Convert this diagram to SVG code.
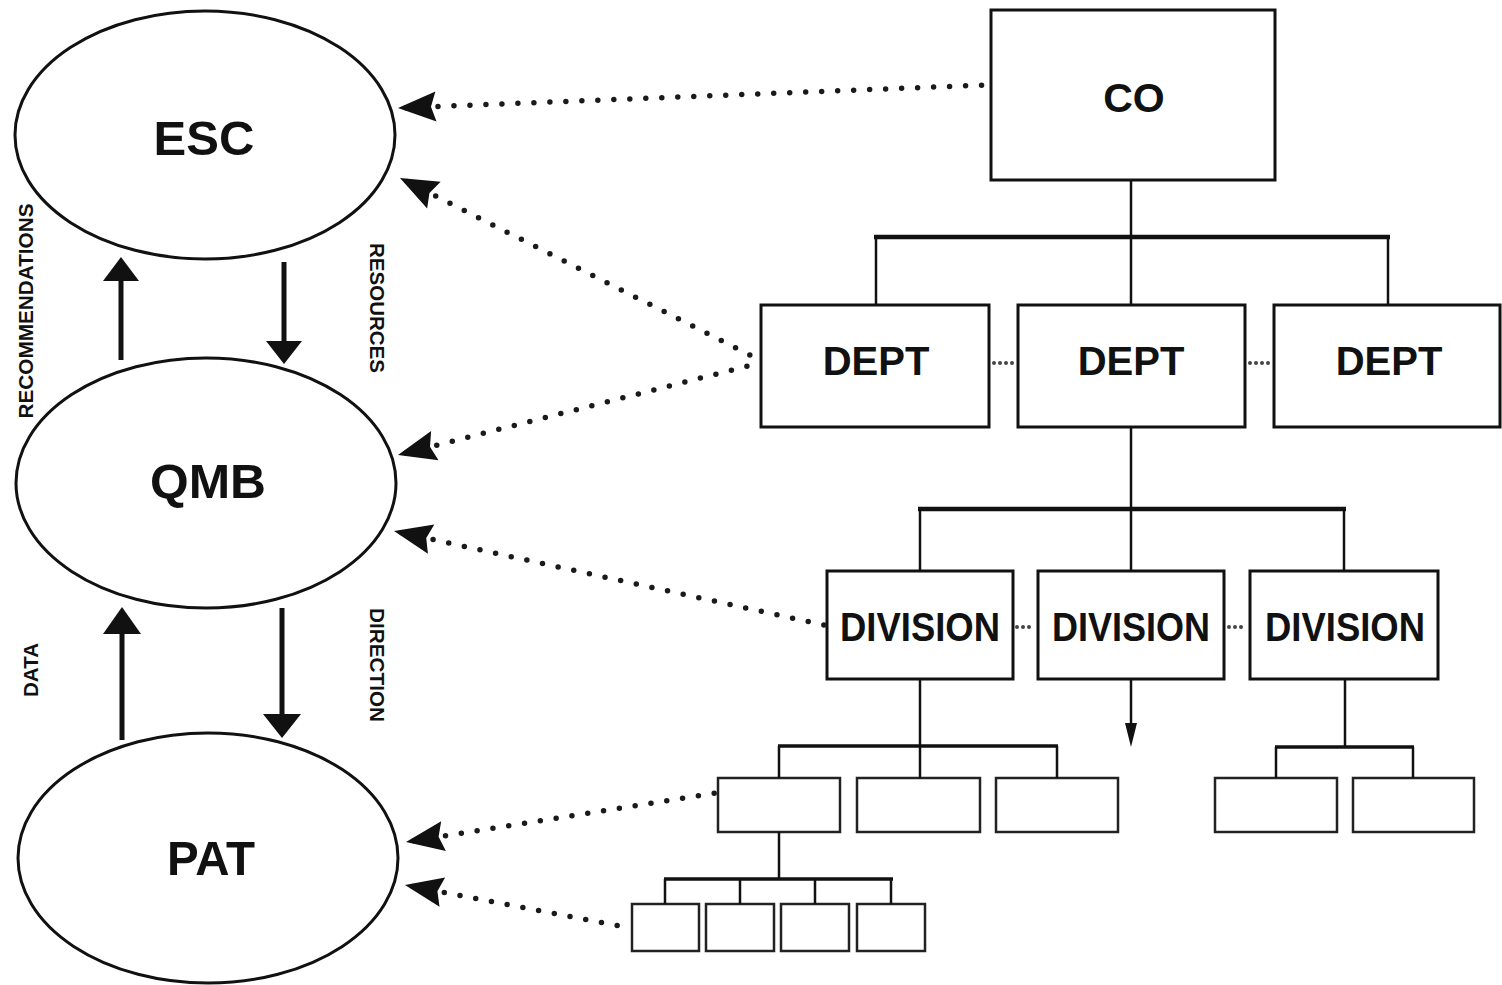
<svg xmlns="http://www.w3.org/2000/svg" width="1502" height="985" viewBox="0 0 1502 985">
  <style>
    .oval { fill: #fff; stroke: #111; stroke-width: 3; }
    .box { fill: #fff; stroke: #111; stroke-width: 3; }
    .small { fill: #fff; stroke: #222; stroke-width: 2.5; }
    .title { font-family: "Liberation Sans", Arial, sans-serif; font-weight: bold; fill: #111; text-anchor: middle; }
    .side { font-family: "Liberation Sans", Arial, sans-serif; font-weight: bold; fill: #111; text-anchor: middle; font-size: 20px; }
    .tree { fill: none; stroke: #111; stroke-width: 2.5; }
    .bar { fill: none; stroke: #111; stroke-width: 4.5; }
    .bar2 { fill: none; stroke: #111; stroke-width: 3.5; }
    .flow { fill: none; stroke: #111; stroke-width: 5; }
    .dots { fill: none; stroke: #1a1a1a; stroke-width: 5.5; stroke-linecap: round; stroke-dasharray: 0 16; stroke-dashoffset: 8; }
    .tie { fill: none; stroke: #444; stroke-width: 4; stroke-linecap: round; stroke-dasharray: 0 6; }
    .head { fill: #111; }
  </style>
  <defs>
    <marker id="dart" markerUnits="userSpaceOnUse" markerWidth="40" markerHeight="32" viewBox="0 0 40 32" refX="40" refY="16" orient="auto-start-reverse">
      <path d="M2,1 L40,16 L2,31 L7,16 Z" fill="#111" stroke="none"/>
    </marker>
  </defs>

  <rect width="1502" height="985" fill="#fff"/>

  <!-- committee ovals -->
  <g id="esc">
    <ellipse class="oval" cx="205" cy="135" rx="190" ry="124"/>
    <text class="title" x="204" y="155" font-size="49">ESC</text>
  </g>
  <g id="qmb">
    <ellipse class="oval" cx="206" cy="483" rx="190" ry="125"/>
    <text class="title" x="208" y="498" font-size="49" textLength="116" lengthAdjust="spacingAndGlyphs">QMB</text>
  </g>
  <g id="pat">
    <ellipse class="oval" cx="208" cy="858" rx="190" ry="125"/>
    <text class="title" x="211" y="875" font-size="49" textLength="88" lengthAdjust="spacingAndGlyphs">PAT</text>
  </g>

  <!-- flow labels -->
  <g id="labels">
    <text class="side" transform="translate(33,311) rotate(-90)" textLength="215" lengthAdjust="spacingAndGlyphs">RECOMMENDATIONS</text>
    <text class="side" transform="translate(370,308) rotate(90)" textLength="130" lengthAdjust="spacingAndGlyphs">RESOURCES</text>
    <text class="side" transform="translate(38,670) rotate(-90)" textLength="54" lengthAdjust="spacingAndGlyphs">DATA</text>
    <text class="side" transform="translate(370,665) rotate(90)" textLength="114" lengthAdjust="spacingAndGlyphs">DIRECTION</text>
  </g>

  <!-- organisation chart -->
  <g id="co">
    <rect class="box" x="991" y="10" width="284" height="170"/>
    <text class="title" x="1134" y="112" font-size="41">CO</text>
  </g>
  <g id="dept1">
    <rect class="box" x="761" y="305" width="228" height="122"/>
    <text class="title" x="876" y="375" font-size="40">DEPT</text>
  </g>
  <g id="dept2">
    <rect class="box" x="1018" y="305" width="227" height="122"/>
    <text class="title" x="1131" y="375" font-size="40">DEPT</text>
  </g>
  <g id="dept3">
    <rect class="box" x="1274" y="305" width="226" height="122"/>
    <text class="title" x="1389" y="375" font-size="40">DEPT</text>
  </g>
  <g id="div1">
    <rect class="box" x="827" y="571" width="186" height="108"/>
    <text class="title" x="920" y="641" font-size="40" textLength="160" lengthAdjust="spacingAndGlyphs">DIVISION</text>
  </g>
  <g id="div2">
    <rect class="box" x="1038" y="571" width="186" height="108"/>
    <text class="title" x="1131" y="641" font-size="40" textLength="158" lengthAdjust="spacingAndGlyphs">DIVISION</text>
  </g>
  <g id="div3">
    <rect class="box" x="1250" y="571" width="188" height="108"/>
    <text class="title" x="1345" y="641" font-size="40" textLength="160" lengthAdjust="spacingAndGlyphs">DIVISION</text>
  </g>
  <g id="unit1"><rect class="small" x="718" y="778" width="122" height="54"/></g>
  <g id="unit2"><rect class="small" x="857" y="778" width="123" height="54"/></g>
  <g id="unit3"><rect class="small" x="996" y="778" width="122" height="54"/></g>
  <g id="unit4"><rect class="small" x="1215" y="778" width="122" height="54"/></g>
  <g id="unit5"><rect class="small" x="1353" y="778" width="121" height="54"/></g>
  <g id="team1"><rect class="small" x="632" y="904" width="67" height="47"/></g>
  <g id="team2"><rect class="small" x="706" y="904" width="68" height="47"/></g>
  <g id="team3"><rect class="small" x="781" y="904" width="68" height="47"/></g>
  <g id="team4"><rect class="small" x="857" y="904" width="68" height="47"/></g>

  <!-- connectors -->
  <g id="connectors">
    <!-- CO to departments -->
    <path class="tree" d="M1131,180 V305"/>
    <path class="bar" d="M874,237 H1390"/>
    <path class="tree" d="M876,237 V305 M1388,237 V305"/>
    <!-- department to divisions -->
    <path class="tree" d="M1131,427 V571"/>
    <path class="bar" d="M918,509 H1346"/>
    <path class="tree" d="M920,509 V571 M1344,509 V571"/>
    <!-- division to units -->
    <path class="tree" d="M920,679 V746"/>
    <path class="bar2" d="M778,746 H1058"/>
    <path class="tree" d="M779,746 V778 M920,746 V778 M1057,746 V778"/>
    <path class="tree" d="M1345,679 V747"/>
    <path class="bar2" d="M1275,747 H1414"/>
    <path class="tree" d="M1276,747 V778 M1413,747 V778"/>
    <!-- unit to teams -->
    <path class="tree" d="M779,832 V879"/>
    <path class="bar2" d="M664,879 H893"/>
    <path class="tree" d="M665,879 V904 M740,879 V904 M815,879 V904 M891,879 V904"/>
    <!-- further levels below the middle division -->
    <path class="tree" d="M1131,679 V726"/>
    <polygon class="head" points="1131,747 1125,723 1137,723"/>

    <!-- peer links -->
    <path class="tie" d="M994,363 H1014"/>
    <path class="tie" d="M1250,363 H1270"/>
    <path class="tie" d="M1017,627 H1035"/>
    <path class="tie" d="M1229,627 H1247"/>

    <!-- flows between committees -->
    <path class="flow" d="M121,360 V276"/>
    <polygon class="head" points="121,257 103,281 139,281"/>
    <path class="flow" d="M284,262 V344"/>
    <polygon class="head" points="284,364 266,341 302,341"/>
    <path class="flow" d="M122,740 V630"/>
    <polygon class="head" points="122,607 103,634 141,634"/>
    <path class="flow" d="M282,608 V718"/>
    <polygon class="head" points="282,738 263,714 301,714"/>

    <!-- reporting links into the committees -->
    <path class="dots" d="M398,108 L988,85" marker-start="url(#dart)"/>
    <path class="dots" d="M400,178 L752,356" marker-start="url(#dart)"/>
    <path class="dots" d="M398,455 L752,365" marker-start="url(#dart)"/>
    <path class="dots" d="M394,531 L824,625" marker-start="url(#dart)"/>
    <path class="dots" d="M406,842 L716,793" marker-start="url(#dart)"/>
    <path class="dots" d="M405,885 L630,928" marker-start="url(#dart)"/>
  </g>
</svg>
